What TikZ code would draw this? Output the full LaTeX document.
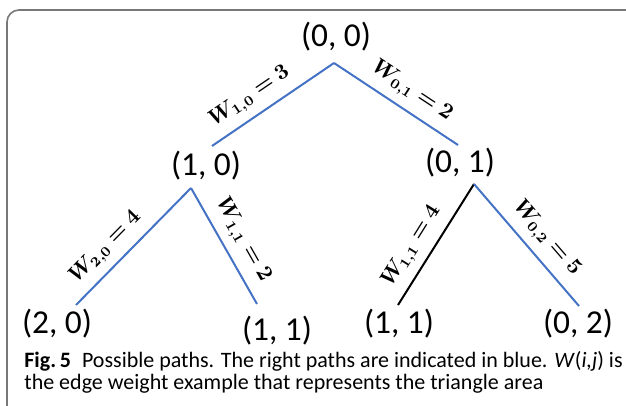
\documentclass[tikz,border=0pt]{standalone}
\usepackage{amsmath}
\usepackage{bm}
\usepackage{fontspec}
\setmainfont{Carlito}
\newfontfamily\capfont{Carlito}
\usetikzlibrary{positioning}

\definecolor{pathblue}{RGB}{68,114,196}
\definecolor{framegray}{RGB}{120,120,120}

\begin{document}
\begin{tikzpicture}[x=0.5pt,y=-0.5pt,
  gridpt/.style={font=\fontsize{16.7}{20}\selectfont, inner sep=0pt},
  rightpath/.style={line width=1pt, draw=pathblue},
  otherpath/.style={line width=1pt, draw=black},
  weight/.style={above, sloped, inner sep=4pt, font=\fontsize{10.5}{12}\selectfont}]
  \useasboundingbox (0,0) rectangle (626,406);
  \draw[framegray, line width=0.8pt, rounded corners=6] (7,406) -- (7,10) -- (626,10);

  % grid points
  \node[gridpt] (n00) at (336,37) {(0, 0)};
  \node[gridpt] (n10) at (206,166) {(1, 0)};
  \node[gridpt] (n01) at (460,163) {(0, 1)};
  \node[gridpt] (n20) at (57,324) {(2, 0)};
  \node[gridpt] (n11a) at (277,331) {(1, 1)};
  \node[gridpt] (n11b) at (399,324) {(1, 1)};
  \node[gridpt] (n02) at (578,324) {(0, 2)};

  % line ends
  \coordinate (v00) at (334,63);
  \coordinate (u10) at (212,146);
  \coordinate (d10) at (191,188);
  \coordinate (u01) at (458,145);
  \coordinate (d01) at (474,184);
  \coordinate (v20) at (76,305);
  \coordinate (v11a) at (257,304);
  \coordinate (v11b) at (398,305);
  \coordinate (v02) at (579,306);

  \draw[rightpath] (v00) -- node[weight, pos=0.6] {$\bm{W_{1,0} = 3}$} (u10);
  \draw[rightpath] (v00) -- node[weight, pos=0.54] {$\bm{W_{0,1} = 2}$} (u01);
  \draw[rightpath] (d10) -- node[weight, pos=0.62] {$\bm{W_{2,0} = 4}$} (v20);
  \draw[rightpath] (d10) -- node[weight, pos=0.53] {$\bm{W_{1,1} = 2}$} (v11a);
  \draw[otherpath] (d01) -- node[weight, pos=0.6] {$\bm{W_{1,1} = 4}$} (v11b);
  \draw[rightpath] (d01) -- node[weight, pos=0.55] {$\bm{W_{0,2} = 5}$} (v02);

  \node[anchor=base west, align=left, inner sep=0pt, font=\capfont\fontsize{11}{11}\selectfont] (cap) at (24,389)
    {{\bfseries Fig.\,5}\enspace Possible paths. The right paths are indicated in blue. \textit{W}(\textit{i,j}) is\\
     the edge weight example that represents the triangle area};
\end{tikzpicture}
\end{document}
